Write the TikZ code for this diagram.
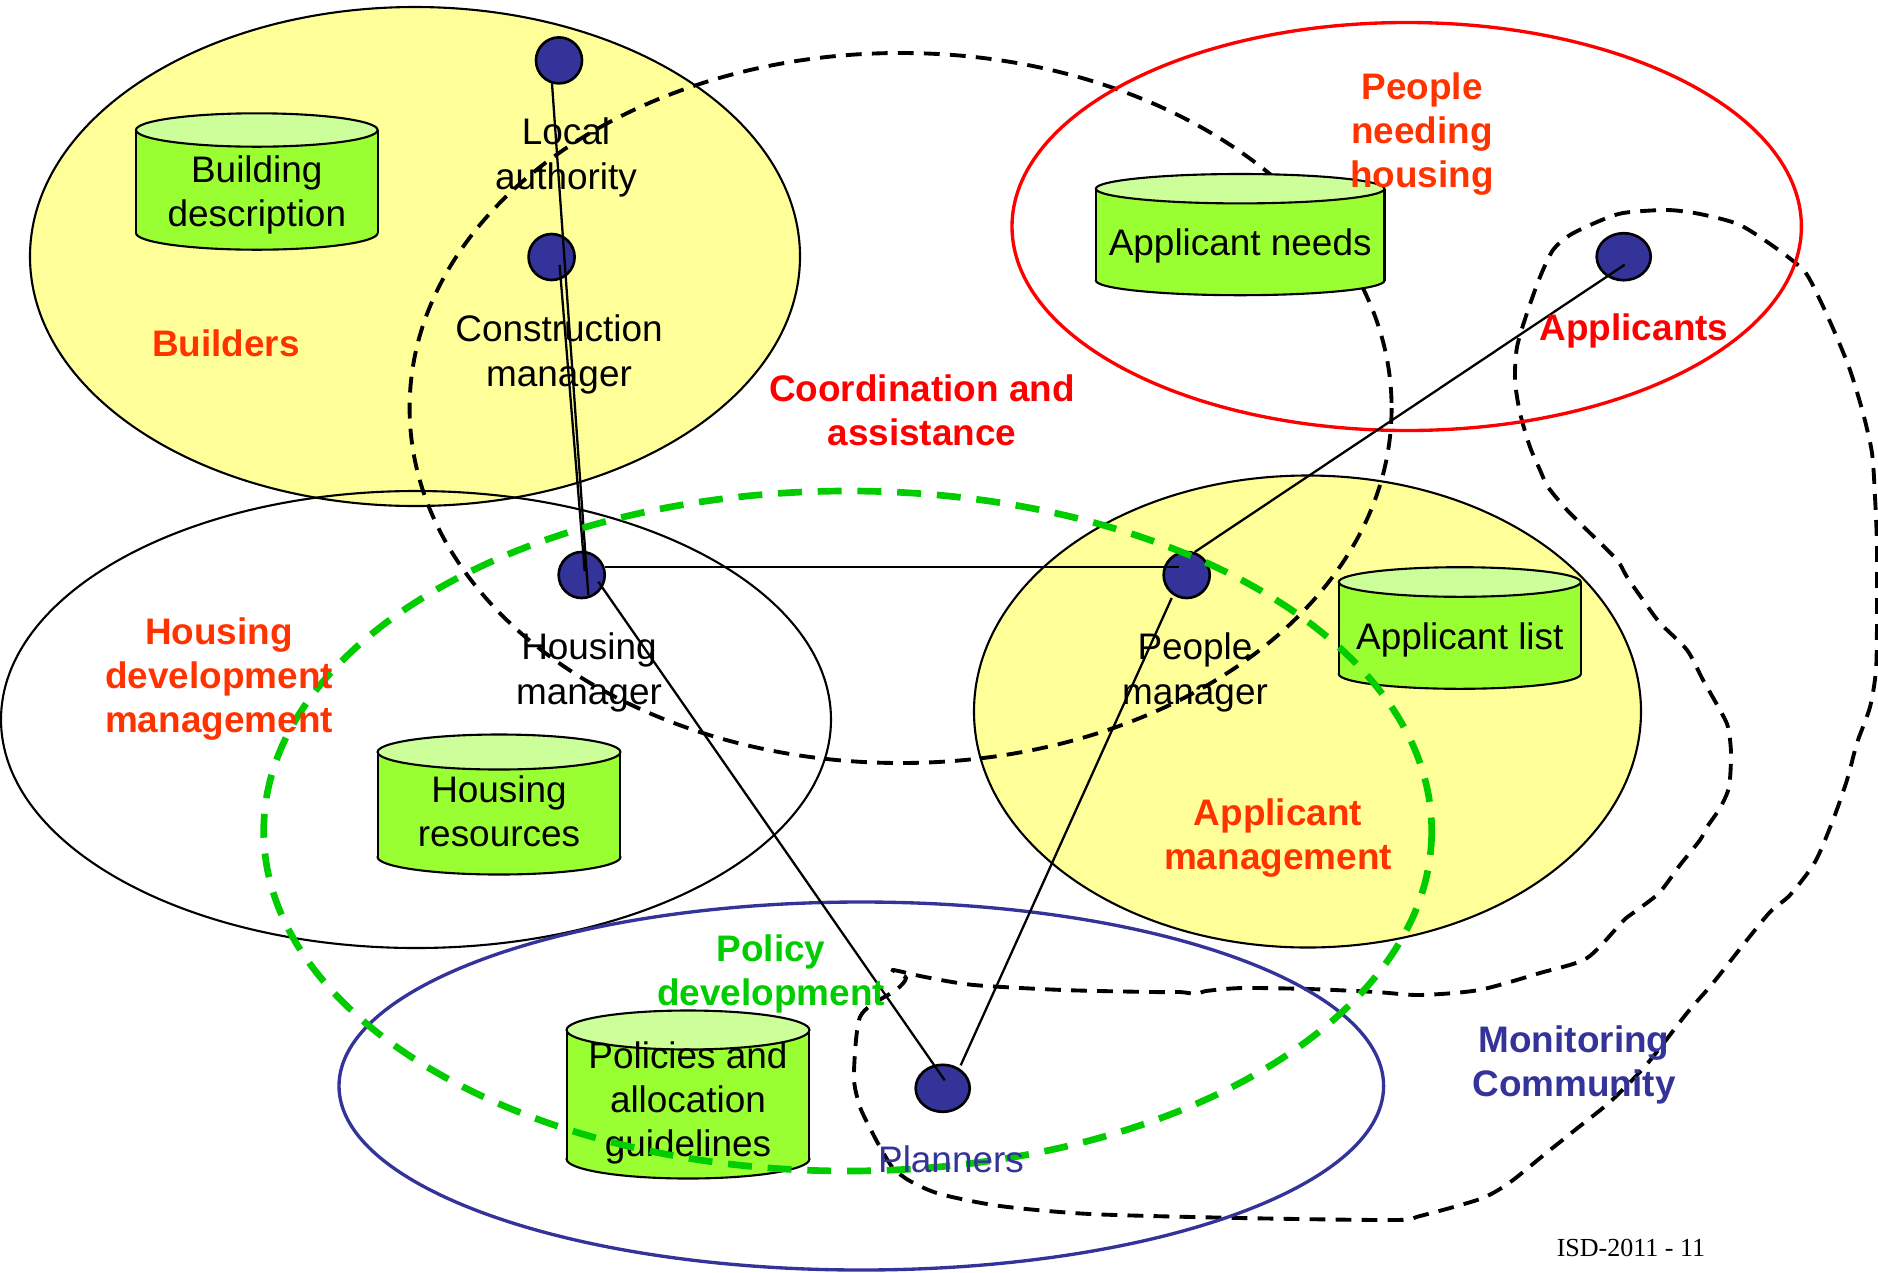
\documentclass[tikz,border=0pt]{standalone}
\usepackage{fontspec}
\setmainfont{Liberation Sans}
\newfontfamily\isdfont{Liberation Serif}
\usetikzlibrary{calc,shapes.geometric}

\definecolor{paleyellow}{HTML}{FFFF99}
\definecolor{storebody}{HTML}{99FF33}
\definecolor{storetop}{HTML}{CCFF99}
\definecolor{actorblue}{HTML}{333399}
\definecolor{hotred}{HTML}{FF0000}
\definecolor{orangered}{HTML}{FF3300}
\definecolor{policygreen}{HTML}{00CC00}

% data store drawn as a cylinder: name, cx, top-y, bottom-y, rx, ry, text-y, text
\newcommand\storecyl[8]{%
  \filldraw[storeline, fill=storebody] (#2,#4) ellipse[x radius=#5, y radius=#6];
  \fill[storebody] (#2-#5,#3) rectangle (#2+#5,#4);
  \draw[storeline] (#2-#5,#3) -- (#2-#5,#4) (#2+#5,#3) -- (#2+#5,#4);
  \filldraw[storeline, fill=storetop] (#2,#3) ellipse[x radius=#5, y radius=#6];
  \node[txt] (#1) at (#2,#7) {#8};
}

\begin{document}
\begin{tikzpicture}[x=0.01cm, y=-0.01cm,
  txt/.style={align=center, inner sep=0pt, font=\fontsize{10.5}{12.6}\selectfont},
  lbl/.style={align=center, inner sep=0pt, font=\fontsize{10.5}{12.6}\selectfont\bfseries},
  region/.style={line width=0.6pt},
  storeline/.style={line width=0.6pt, draw=black},
  groupdash/.style={line width=1.1pt, dash pattern=on 4.5pt off 2.9pt},
  actor/.style={ellipse, draw=black, fill=actorblue, line width=0.75pt,
                minimum width=0.46cm, minimum height=0.46cm, inner sep=0pt},
  wideactor/.style={actor, minimum width=0.54cm, minimum height=0.47cm},
  link/.style={line width=0.65pt}
]
\useasboundingbox (0,0) rectangle (1878,1272);

% organisational regions
\filldraw[region, fill=paleyellow] (415,256.5) ellipse[x radius=385, y radius=249.5];
\draw[region] (416,719.5) ellipse[x radius=415, y radius=228.5];
\filldraw[region, fill=paleyellow] (1307.5,711.5) ellipse[x radius=333.5, y radius=236];

% coordination and assistance
\draw[groupdash] (900.6,408) ellipse[x radius=491, y radius=355];

% data stores
\storecyl{bdesc}{256.8}{130}{233}{120.8}{16.7}{195}{Building\\description}
\storecyl{aneeds}{1240.2}{188.7}{280.5}{144.3}{14.7}{245.5}{Applicant needs}
\storecyl{alist}{1459.8}{582}{674}{121}{14.8}{639.5}{Applicant list}
\storecyl{hres}{499}{752}{857}{121.4}{17.5}{811}{Housing\\resources}
\storecyl{policies}{688}{1030}{1159}{121.4}{19.5}{1103}{Policies and\\allocation\\guidelines}

% monitoring community
\draw[groupdash] plot[smooth cycle, tension=0.45] coordinates {
  (1623,213) (1667,210) (1700,214) (1740,225) (1780,251) (1805,272)
  (1820,300) (1835,333) (1850,370) (1863,413) (1872,453) (1875,497)
  (1877,547) (1877,620) (1876,670) (1870,707) (1857,743) (1847,780)
  (1833,820) (1815,862) (1790,895) (1770,912) (1743,945) (1713,983)
  (1687,1013) (1647,1064) (1611,1101) (1575,1130) (1545,1154) (1509,1183)
  (1480,1199) (1420,1216) (1395,1220) (1240,1218) (1090,1214) (1000,1206)
  (940,1194) (910,1181) (893,1168) (880,1147) (871,1130) (860,1107)
  (854,1080) (856,1040) (860,1017) (871,1005) (896,990) (906,978)
  (893,970) (925,977) (974,985) (1063,990) (1152,992) (1180,992)
  (1197,994) (1206,991) (1242,988) (1309,989) (1376,992) (1420,995)
  (1479,990) (1540,973) (1587,958) (1623,921) (1633,913) (1659,893)
  (1680,865) (1700,840) (1707,827) (1720,808) (1729,787) (1731,753)
  (1728,727) (1720,710) (1703,680) (1687,650) (1660,623) (1643,600)
  (1627,577) (1617,560) (1590,533) (1567,510) (1548,487) (1540,470)
  (1530,447) (1520,413) (1515,380) (1517,347) (1527,313) (1540,277)
  (1553,250) (1570,235) (1597,222)};

% people needing housing, planners
\draw[hotred, line width=0.95pt] (1406.7,226.5) ellipse[x radius=394.7, y radius=204];
\draw[actorblue, line width=0.95pt] (861.3,1086) ellipse[x radius=522.3, y radius=184];

% actors
\node[actor] (la) at (559,60.4) {};
\node[actor] (cm) at (551.6,257) {};
\node[actor] (hm) at (581.7,575) {};
\node[actor] (pm) at (1186.7,575) {};
\node[wideactor] (ap) at (1623.7,256.7) {};
\node[wideactor] (pl) at (942.7,1088.3) {};

% links between actors
\draw[link] ($(la)+(-7,23)$) -- ($(hm)+(6.6,20)$);
\draw[link] ($(cm)+(8,8)$) -- ($(hm)+(3,-4)$);
\draw[link] ($(hm)+(23,-8)$) -- ($(pm)+(-8,-8)$);
\draw[link] ($(pm)+(8,-23)$) -- ($(ap)+(1,8)$);
\draw[link] ($(hm)+(16.6,6.7)$) -- ($(pl)+(2,-8)$);
\draw[link] ($(pm)+(-15,23)$) -- ($(pl)+(18,-23)$);

% policy development
\draw[policygreen, line width=1.9pt, dash pattern=on 6.8pt off 4.5pt]
  (847.7,831) ellipse[x radius=584, y radius=340];

% actor names
\node[txt] (latext) at (566,157.5) {Local\\authority};
\node[txt] (cmtext) at (559,354.5) {Construction\\manager};
\node[txt] (hmtext) at (589,672.5) {Housing\\manager};
\node[txt] (pmtext) at (1195,672.5) {People\\manager};
\node[txt, text=actorblue] (pltext) at (951,1159) {Planners};

% region names
\node[lbl, text=orangered] (builders) at (226,343) {Builders};
\node[lbl, text=hotred] (coord) at (922,410) {Coordination and\\assistance};
\node[lbl, text=orangered] (needing) at (1422,134) {People\\needing\\housing};
\node[lbl, text=hotred] (applicants) at (1634,331) {Applicants};
\node[lbl, text=orangered] (hdm) at (219,679) {Housing\\development\\management};
\node[lbl, text=orangered] (amgmt) at (1278,838) {Applicant\\management};
\node[lbl, text=policygreen] (policy) at (771,974) {Policy\\development};
\node[lbl, text=actorblue] (monitor) at (1574,1065) {Monitoring\\Community};

\node[inner sep=0pt, font=\isdfont\fontsize{7.4}{9}\selectfont] (slide) at (1631,1248) {ISD-2011 - 11};
\end{tikzpicture}
\end{document}
